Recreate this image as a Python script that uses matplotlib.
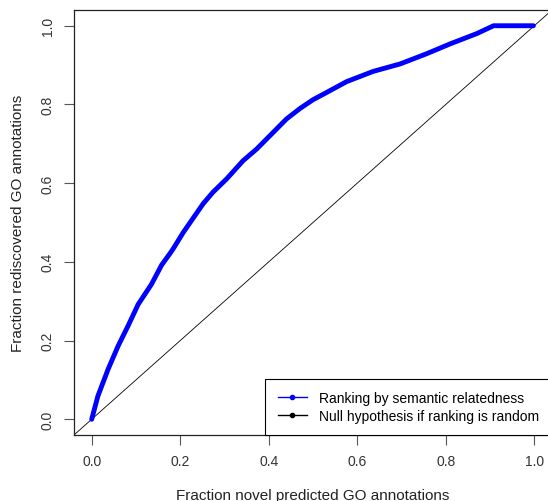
import matplotlib
matplotlib.use("Agg")
import matplotlib.pyplot as plt
from matplotlib.lines import Line2D

plt.rcParams['font.family'] = ['Liberation Sans', 'DejaVu Sans']

# curve (fraction novel vs fraction rediscovered)
frac_novel = [0.0, 0.014, 0.037, 0.060, 0.082, 0.105, 0.135, 0.158, 0.176, 0.184,
              0.207, 0.252, 0.274, 0.305, 0.342, 0.373, 0.403, 0.440, 0.471, 0.500,
              0.530, 0.576, 0.636, 0.697, 0.757, 0.810, 0.840, 0.870, 0.908, 0.998]
frac_redisc = [0.0, 0.059, 0.127, 0.187, 0.237, 0.292, 0.343, 0.392, 0.420, 0.433,
               0.475, 0.548, 0.577, 0.611, 0.657, 0.687, 0.721, 0.763, 0.790, 0.812,
               0.830, 0.858, 0.884, 0.903, 0.929, 0.954, 0.967, 0.980, 1.0, 1.0]
ticks = [0.0, 0.2, 0.4, 0.6, 0.8, 1.0]

fig = plt.figure(figsize=(5.48, 5.02), dpi=100)
ax = fig.add_axes([74 / 548, 66 / 502, 478 / 548, 425 / 502])

ax.plot([-0.04, 1.04], [-0.04, 1.04], color='black', lw=0.6)
ax.plot(frac_novel, frac_redisc, color='blue', lw=3.5, solid_capstyle='round',
        solid_joinstyle='round')

ax.set_xlim(-0.04, 1.04)
ax.set_ylim(-0.04, 1.04)
ax.set_xticks(ticks)
ax.set_yticks(ticks)
ax.set_xticklabels(['%.1f' % t for t in ticks])
ax.set_yticklabels(['%.1f' % t for t in ticks], rotation=90, va='center')
ax.tick_params(direction='out', length=7, width=0.8, colors='#555555',
               labelcolor='#333333', labelsize=10, pad=7)
for s in ax.spines.values():
    s.set_color('#222222')
    s.set_linewidth(0.9)

ax.set_xlabel('Fraction novel predicted GO annotations', fontsize=11, color='#222222', labelpad=14)
ax.set_ylabel('Fraction rediscovered GO annotations', fontsize=11, color='#222222', labelpad=11)

hb = Line2D([], [], color='blue', lw=1, marker='o', markersize=3)
hk = Line2D([], [], color='black', lw=1, marker='o', markersize=3)
leg = ax.legend([hb, hk], ['Ranking by semantic relatedness', 'Null hypothesis if ranking is random'],
                loc='lower right', borderaxespad=0,
                fancybox=False, edgecolor='black', framealpha=1, fontsize=10,
                handlelength=2.1, handletextpad=0.9, labelspacing=0.25,
                borderpad=0.9)
leg.get_frame().set_linewidth(0.8)

fig.savefig('out.png', dpi=100)
